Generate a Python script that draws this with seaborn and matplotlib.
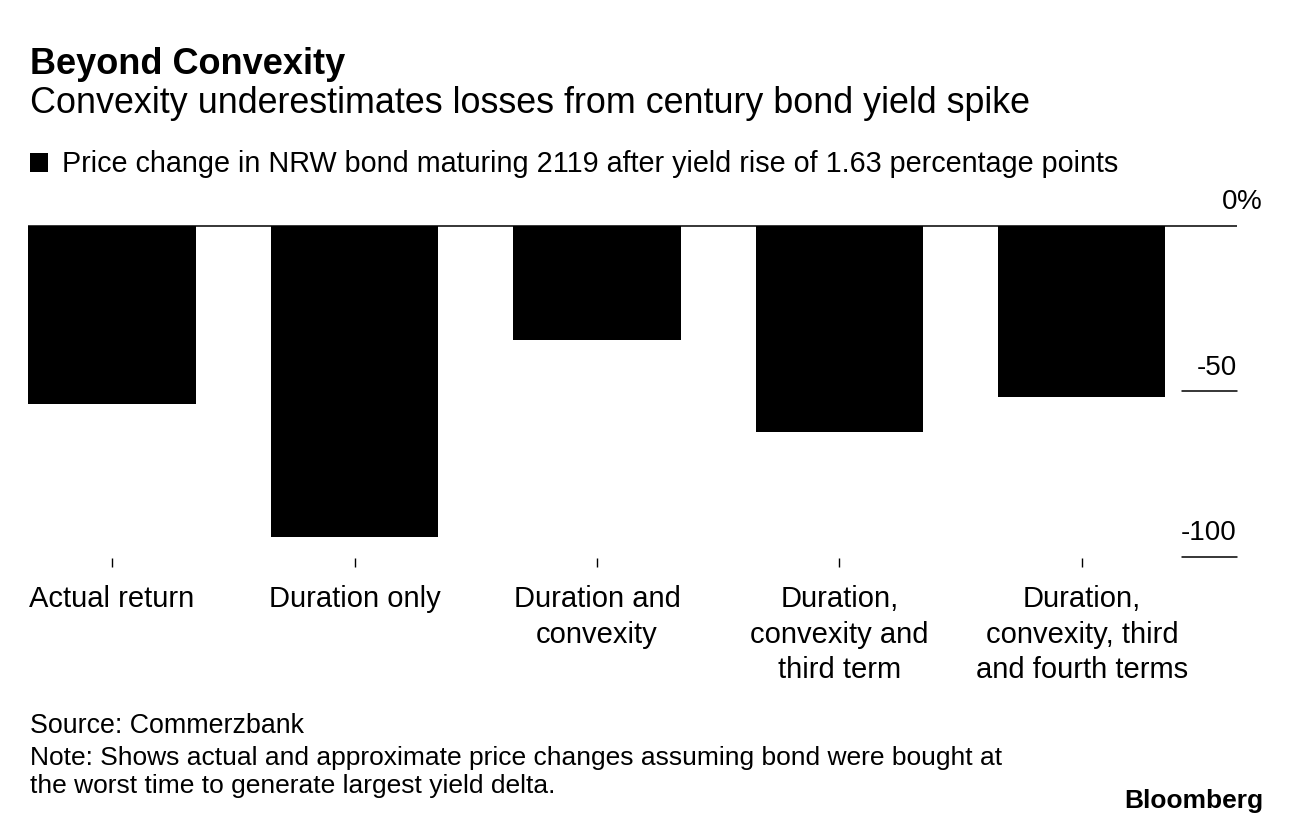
import matplotlib.pyplot as plt
import matplotlib.transforms as mtransforms
from matplotlib.patches import Rectangle
import seaborn as sns
import pandas as pd

sns.set_style("white")
plt.rcParams['font.family'] = ['Liberation Sans', 'DejaVu Sans']
plt.rcParams['text.color'] = 'black'
plt.rcParams['xtick.color'] = 'black'
plt.rcParams['xtick.labelcolor'] = 'black'

# values (price change, %)
categories = ['Actual return', 'Duration only', 'Duration and\nconvexity',
              'Duration,\nconvexity and\nthird term', 'Duration,\nconvexity, third\nand fourth terms']
price_change = [-53.8, -94.0, -34.4, -62.2, -51.7]
ytick_values = [0, -50, -100]
ytick_labels = ['0', '-50', '-100']

df = pd.DataFrame({'label': categories, 'change': price_change})

W, H = 1292, 824
fig = plt.figure(figsize=(W / 100, H / 100), dpi=100)
ax = fig.add_axes([28 / W, 1 - 558 / H, (1237 - 28) / W, (558 - 200) / H])

sns.barplot(data=df, x='label', y='change', color='black', saturation=1,
            width=0.69, linewidth=0, ax=ax)

ax.set_xlim(-0.347, 4.64)
ax.set_ylim(-100.3, 7.85)
sns.despine(ax=ax, left=True, bottom=True, right=True, top=True)
ax.set_yticks([])
ax.set_xlabel('')
ax.set_ylabel('')
ax.set_xticks(range(len(categories)))
ax.set_xticklabels(categories, linespacing=1.34, fontsize=21)
ax.tick_params(axis='x', bottom=True, length=6.5, width=1, color='black', pad=13)

# zero line across, short grid lines under the right-hand labels
ax.axhline(0, color='black', lw=1.1, zorder=3)
trans = mtransforms.blended_transform_factory(ax.transAxes, ax.transData)
for v, lab in zip(ytick_values, ytick_labels):
    if v != 0:
        ax.axhline(v, xmin=(1182 - 28) / (1237 - 28), xmax=1, color='black', lw=1.1, clip_on=False)
    ax.annotate(lab, xy=(1, v), xycoords=trans, xytext=(0, 12), textcoords='offset points',
                ha='right', va='baseline', fontsize=20, annotation_clip=False)
# the % sign hangs past the label column
ax.annotate('%', xy=(1, 0), xycoords=trans, xytext=(0, 12), textcoords='offset points',
            ha='left', va='baseline', fontsize=20, annotation_clip=False)

# titles and legend
fig.text(30 / W, 1 - 74 / H, 'Beyond Convexity', fontsize=26, fontweight='bold', va='baseline')
fig.text(30 / W, 1 - 113 / H, 'Convexity underestimates losses from century bond yield spike',
         fontsize=25.8, va='baseline')
fig.add_artist(Rectangle((30 / W, 1 - 172 / H), 18 / W, 19 / H, transform=fig.transFigure,
                         color='black', lw=0))
fig.text(62 / W, 1 - 172 / H,
         'Price change in NRW bond maturing 2119 after yield rise of 1.63 percentage points',
         fontsize=20.7, va='baseline')

# footer
fig.text(30 / W, 1 - 733 / H, 'Source: Commerzbank', fontsize=19.3, va='baseline')
fig.text(30 / W, 1 - 793 / H,
         'Note: Shows actual and approximate price changes assuming bond were bought at\n'
         'the worst time to generate largest yield delta.',
         fontsize=19, va='baseline', linespacing=1.2)
fig.text(1263 / W, 1 - 808 / H, 'Bloomberg', fontsize=19, fontweight='bold',
         ha='right', va='baseline')

fig.savefig('out.png', dpi=100)
